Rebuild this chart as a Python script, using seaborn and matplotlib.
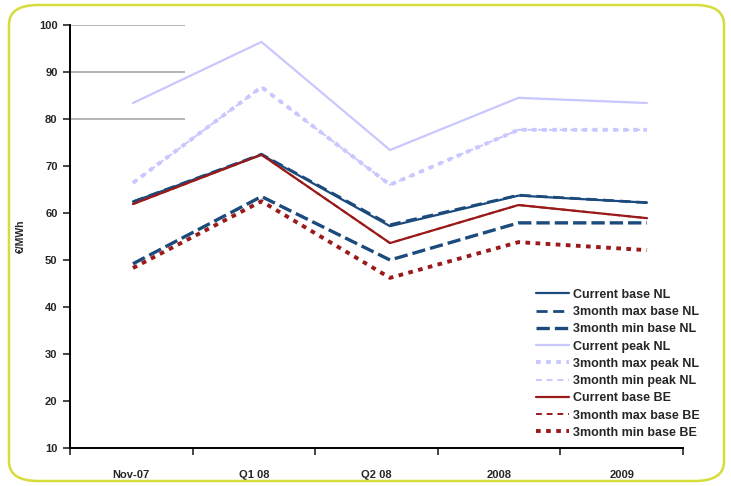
import numpy as np
import pandas as pd
import matplotlib
matplotlib.use("Agg")
import matplotlib.pyplot as plt
from matplotlib.patches import FancyBboxPatch
import seaborn as sns

periods = ["Nov-07", "Q1 08", "Q2 08", "2008", "2009"]

current_base_nl = [62.4, 72.4, 57.2, 63.7, 62.2]
max_base_nl = [62.4, 72.5, 57.5, 63.8, 62.2]
min_base_nl = [49.2, 63.5, 50.0, 57.9, 57.9]
current_peak_nl = [83.4, 96.4, 73.4, 84.5, 83.4]
max_peak_nl = [66.4, 86.8, 66.0, 77.7, 77.7]
min_peak_nl = [66.4, 86.8, 66.0, 77.7, 77.7]
current_base_be = [61.9, 72.4, 53.6, 61.7, 58.9]
max_base_be = [61.9, 72.4, 53.6, 61.7, 58.9]
min_base_be = [48.3, 62.5, 46.2, 53.8, 52.1]

series = [
    ("Current base NL", current_base_nl),
    ("3month max base NL", max_base_nl),
    ("3month min base NL", min_base_nl),
    ("Current peak NL", current_peak_nl),
    ("3month max peak NL", max_peak_nl),
    ("3month min peak NL", min_peak_nl),
    ("Current base BE", current_base_be),
    ("3month max base BE", max_base_be),
    ("3month min base BE", min_base_be),
]

blue = "#1b4a7c"
lilac = "#c8c8ff"
red = "#9a1a1a"
# colour, width, dash, z-order (current lines sit on top of the overlapping ones)
styles = {
    "Current base NL": (blue, 1.6, "-", 5),
    "3month max base NL": (blue, 2.0, (0, (4, 2)), 3),
    "3month min base NL": (blue, 2.4, (0, (4, 1.5)), 3),
    "Current peak NL": (lilac, 1.6, "-", 5),
    "3month max peak NL": (lilac, 2.8, (0, (1.2, 1.4)), 4),
    "3month min peak NL": (lilac, 1.4, (0, (3, 2.5)), 2),
    "Current base BE": (red, 1.6, "-", 5),
    "3month max base BE": (red, 1.4, (0, (3, 2.5)), 3),
    "3month min base BE": (red, 2.8, (0, (1.2, 1.4)), 3),
}

sns.set_style("white")
plt.rcParams["font.family"] = ["Liberation Sans", "DejaVu Sans"]

fig = plt.figure(figsize=(7.31, 4.86), dpi=100)
ax = fig.add_axes([70 / 731, 38 / 486, 613 / 731, 423 / 486])

# rounded frame around the whole picture
frame = FancyBboxPatch((9 / 731, 5 / 486), 715 / 731, 476 / 486,
                       boxstyle="round,pad=0,rounding_size=0.04",
                       transform=fig.transFigure, facecolor="none",
                       edgecolor="#d6dc3a", lw=1.8, zorder=0)
fig.patches.append(frame)

xs = np.arange(len(periods))
for name, vals in series:
    df = pd.DataFrame({"x": xs, "y": vals})
    c, lw, ls, z = styles[name]
    sns.lineplot(data=df, x="x", y="y", ax=ax, color=c, linewidth=lw,
                 linestyle=ls, label=name, zorder=z)

ax.set_ylim(10, 100)
ax.set_yticks(np.arange(10, 101, 10))
xmin, xmax = -0.49, 4.28
ax.set_xlim(xmin, xmax)
width = (xmax - xmin) / len(periods)
ax.set_xticks([xmin + width * i for i in range(len(periods) + 1)])
ax.set_xticklabels([])
ax.set_xticks([xmin + width * (i + 0.5) for i in range(len(periods))], minor=True)
ax.set_xticklabels(periods, minor=True)
ax.tick_params(axis="x", which="minor", length=0, pad=16, labelsize=8)
ax.tick_params(axis="x", which="major", length=5, width=1.2, direction="out",
               bottom=True)
ax.tick_params(axis="y", length=5, width=1.2, direction="out", left=True,
               labelsize=8, pad=4)
for lab in ax.get_xticklabels(minor=True) + ax.get_yticklabels():
    lab.set_fontweight("bold")

ax.hlines([100, 90, 80], xmin, xmin + 0.188 * (xmax - xmin),
          color="#a8a8a8", lw=1.2, zorder=0)

for s in ["top", "right"]:
    ax.spines[s].set_visible(False)
for s in ["left", "bottom"]:
    ax.spines[s].set_color("black")
    ax.spines[s].set_linewidth(1.4)

ax.set_xlabel("")
ax.set_ylabel("€/MWh", fontsize=7.5, fontweight="bold", labelpad=9)

ax.legend(loc="lower right", bbox_to_anchor=(1.035, 0.01), frameon=False,
          prop={"size": 9, "weight": "bold"}, handlelength=2.6,
          handletextpad=0.3, labelspacing=0.42, borderaxespad=0)

fig.savefig("out.png", dpi=100)
